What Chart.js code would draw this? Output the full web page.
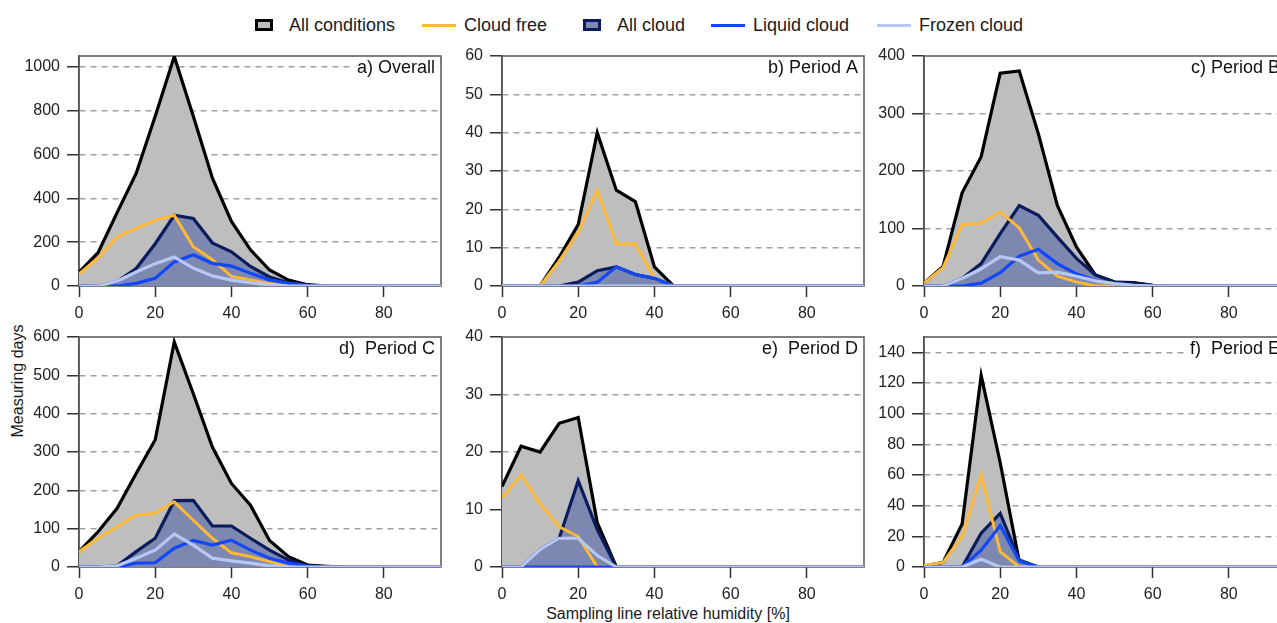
<!DOCTYPE html>
<html>
<head>
<meta charset="utf-8">
<script src="https://cdn.jsdelivr.net/npm/chart.js@4.4.0/dist/chart.umd.min.js"></script>
<style>
html,body{margin:0;padding:0;background:#fff;}
#wrap{position:relative;width:1277px;height:623px;overflow:hidden;font-family:"Liberation Sans",Arial,sans-serif;color:#1a1a1a;background:#fff;}
canvas.pc{position:absolute;}
.lg-item{position:absolute;top:14px;height:22px;display:flex;align-items:center;font-size:18px;white-space:nowrap;}
.sw-box{width:18px;height:12px;box-sizing:border-box;border:3px solid #000;display:inline-block;}
.sw-line{width:34px;height:3px;display:inline-block;}
.ytitle{position:absolute;left:18px;top:381px;transform:translate(-50%,-50%) rotate(-90deg);font-size:16px;white-space:nowrap;}
.xtitle{position:absolute;left:668px;top:614px;transform:translate(-50%,-50%);font-size:16px;white-space:nowrap;}
</style>
</head>
<body>
<div id="wrap">
  <div id="legend"></div>
  <div class="ytitle">Measuring days</div>
  <div class="xtitle">Sampling line relative humidity [%]</div>
</div>
<script>
// ---------- DATA ----------
const humidity = [0,5,10,15,20,25,30,35,40,45,50,55,60,65,70,75,80,85,90,95];
const seriesNames = ['All conditions','Cloud free','All cloud','Liquid cloud','Frozen cloud'];
const panelLabels = ['a) Overall','b) Period A','c) Period B','d)  Period C','e)  Period D','f)  Period E'];
const xTicks = [0,20,40,60,80];
const yTicksA = [0,200,400,600,800,1000];
const yTicksB = [0,10,20,30,40,50,60];
const yTicksC = [0,100,200,300,400];
const yTicksD = [0,100,200,300,400,500,600];
const yTicksE = [0,10,20,30,40];
const yTicksF = [0,20,40,60,80,100,120,140];
const yMaxes = [1050,60,400,600,40,150];

// a) Overall
const overallAll    = [62,152,335,514,775,1048,775,493,295,165,73,27,6,0,0,0,0,0,0,0];
const overallFree   = [55,128,224,263,301,323,179,120,44,27,12,0,0,0,0,0,0,0,0,0];
const overallCloud  = [0,0,20,80,193,323,308,197,156,89,41,15,3,0,0,0,0,0,0,0];
const overallLiquid = [0,0,0,12,35,110,143,103,91,58,28,12,3,0,0,0,0,0,0,0];
const overallFrozen = [0,0,22,64,102,132,82,46,27,15,5,0,0,0,0,0,0,0,0,0];
// b) Period A
const periodAAll    = [0,0,0,7.5,16,40,25,22,5,0,0,0,0,0,0,0,0,0,0,0];
const periodAFree   = [0,0,0,6.5,14,25,11,11,2,0,0,0,0,0,0,0,0,0,0,0];
const periodACloud  = [0,0,0,0,1,4,5,3,2,0,0,0,0,0,0,0,0,0,0,0];
const periodALiquid = [0,0,0,0,0,1,5,3,2,0,0,0,0,0,0,0,0,0,0,0];
const periodAFrozen = [0,0,0,0,0,0,0,0,0,0,0,0,0,0,0,0,0,0,0,0];
// c) Period B
const periodBAll    = [5,34,162,225,370,374,265,140,68,19,7,6,1,0,0,0,0,0,0,0];
const periodBFree   = [5,32,107,109,129,101,45,17,7,0,0,0,0,0,0,0,0,0,0,0];
const periodBCloud  = [0,0,13,39,91,140,123,85,48,19,7,5,1,0,0,0,0,0,0,0];
const periodBLiquid = [0,0,0,5,23,52,64,39,21,10,4,1,0,0,0,0,0,0,0,0];
const periodBFrozen = [0,0,13,30,51,45,23,24,17,9,4,1,0,0,0,0,0,0,0,0];
// d) Period C
const periodCAll    = [40,92,153,244,332,587,452,313,218,161,69,27,5,2,0,0,0,0,0,0];
const periodCFree   = [40,75,105,135,140,170,122,75,37,27,14,0,0,0,0,0,0,0,0,0];
const periodCCloud  = [0,0,3,40,75,173,174,107,107,75,44,18,4,0,0,0,0,0,0,0];
const periodCLiquid = [0,0,0,10,11,49,69,57,70,44,23,10,2,0,0,0,0,0,0,0];
const periodCFrozen = [0,0,3,23,44,86,57,23,16,10,3,0,0,0,0,0,0,0,0,0];
// e) Period D
const periodDAll    = [14,21,20,25,26,7.7,0,0,0,0,0,0,0,0,0,0,0,0,0,0];
const periodDFree   = [12,16,11,7,5.3,0,0,0,0,0,0,0,0,0,0,0,0,0,0,0];
const periodDCloud  = [0,0,3,5,15,6.5,0,0,0,0,0,0,0,0,0,0,0,0,0,0];
const periodDLiquid = [0,0,0,0,0,0,0,0,0,0,0,0,0,0,0,0,0,0,0,0];
const periodDFrozen = [0,0,3,5,5,2,0,0,0,0,0,0,0,0,0,0,0,0,0,0];
// f) Period E
const periodEAll    = [0.5,3,28,125,68,3.5,0,0,0,0,0,0,0,0,0,0,0,0,0,0];
const periodEFree   = [1,3,20,60,10,0,0,0,0,0,0,0,0,0,0,0,0,0,0,0];
const periodECloud  = [0,0,0,22,35,4.5,0,0,0,0,0,0,0,0,0,0,0,0,0,0];
const periodELiquid = [0,0,0,11,27,4,0,0,0,0,0,0,0,0,0,0,0,0,0,0];
const periodEFrozen = [0,0,0,5,0,0,0,0,0,0,0,0,0,0,0,0,0,0,0,0];

// ---------- STYLE / LAYOUT ----------
const FONT = '"Liberation Sans", Arial, sans-serif';
const styles = [
  {type:'box',  fill:'#bebebe', line:'#000000', width:3.2, order:4},
  {type:'line', fill:null,      line:'#fdb935', width:3,   order:2},
  {type:'box',  fill:'#7d88b1', line:'#0a1c5c', width:3.2, order:3},
  {type:'line', fill:null,      line:'#1347f5', width:3.2, order:1},
  {type:'line', fill:null,      line:'#b6c7f5', width:3.2, order:0}
];
const panelData = [
  [overallAll,overallFree,overallCloud,overallLiquid,overallFrozen],
  [periodAAll,periodAFree,periodACloud,periodALiquid,periodAFrozen],
  [periodBAll,periodBFree,periodBCloud,periodBLiquid,periodBFrozen],
  [periodCAll,periodCFree,periodCCloud,periodCLiquid,periodCFrozen],
  [periodDAll,periodDFree,periodDCloud,periodDLiquid,periodDFrozen],
  [periodEAll,periodEFree,periodECloud,periodELiquid,periodEFrozen]
];
const panelTicks = [yTicksA,yTicksB,yTicksC,yTicksD,yTicksE,yTicksF];
const areaLefts = [79,502,924,79,502,924];
const areaTops  = [56,56,56,337,337,337];
const AREA_W = 362, AREA_H = 230, YW = 70, XH = 44, PT = 26, PR = 10;

// legend
const legendLefts = [255,422,583,711,877];
const legend = document.getElementById('legend');
seriesNames.forEach((name,i)=>{
  const st = styles[i];
  const it = document.createElement('div');
  it.className = 'lg-item';
  it.style.left = legendLefts[i] + 'px';
  const sw = document.createElement('span');
  if (st.type === 'box') {
    sw.className = 'sw-box';
    sw.style.background = st.fill;
    sw.style.borderColor = st.line;
    sw.style.marginRight = '16px';
  } else {
    sw.className = 'sw-line';
    sw.style.background = st.line;
    sw.style.marginRight = '8px';
  }
  it.appendChild(sw);
  const tx = document.createElement('span');
  tx.textContent = name;
  it.appendChild(tx);
  legend.appendChild(it);
});

const panelDecor = {
  id: 'panelDecor',
  beforeDatasetsDraw(chart) {
    const {ctx, chartArea: a} = chart;
    ctx.save();
    ctx.strokeStyle = '#555';
    ctx.lineWidth = 1.5;
    ctx.strokeRect(a.left, a.top, a.right - a.left, a.bottom - a.top);
    ctx.restore();
  },
  afterDatasetsDraw(chart, args, opts) {
    const {ctx, chartArea: a} = chart;
    ctx.save();
    ctx.font = '18px ' + FONT;
    const w = ctx.measureText(opts.label).width;
    const x = a.right - 6, y = a.top + 12;
    ctx.fillStyle = '#fff';
    ctx.fillRect(x - w - 2, y - 10, w + 4, 20);
    ctx.fillStyle = '#111';
    ctx.textAlign = 'right';
    ctx.textBaseline = 'middle';
    ctx.fillText(opts.label, x, y);
    ctx.restore();
  }
};

const wrap = document.getElementById('wrap');
panelData.forEach((series, p) => {
  const cv = document.createElement('canvas');
  cv.className = 'pc';
  const W = YW + AREA_W + PR, H = PT + AREA_H + XH;
  cv.width = W; cv.height = H;
  cv.style.width = W + 'px'; cv.style.height = H + 'px';
  cv.style.left = (areaLefts[p] - YW) + 'px';
  cv.style.top = (areaTops[p] - PT) + 'px';
  wrap.appendChild(cv);
  const yMax = yMaxes[p];
  const yt = panelTicks[p];
  const datasets = series.map((vals, i) => {
    const st = styles[i];
    return {
      label: seriesNames[i],
      data: humidity.map((h, k) => ({x: h, y: vals[k]})),
      borderColor: st.line,
      backgroundColor: st.fill || 'rgba(0,0,0,0)',
      borderWidth: st.width,
      fill: st.fill ? 'origin' : false,
      pointRadius: 0,
      tension: 0,
      borderJoinStyle: 'miter',
      order: st.order
    };
  });
  new Chart(cv, {
    type: 'line',
    data: {datasets},
    options: {
      responsive: false, animation: false, devicePixelRatio: 1,
      layout: {padding: {left: 0, right: PR, top: PT, bottom: 0}},
      plugins: {legend: {display: false}, tooltip: {enabled: false}, panelDecor: {label: panelLabels[p]}},
      scales: {
        x: {
          type: 'linear', min: 0, max: 95,
          afterBuildTicks: s => { s.ticks = xTicks.map(v => ({value: v})); },
          afterFit: s => { s.height = XH; },
          grid: {drawOnChartArea: false, tickLength: 11, tickColor: '#333', tickWidth: 1.5},
          border: {display: false},
          ticks: {font: {size: 16, family: FONT}, color: '#222', padding: 7, maxRotation: 0, autoSkip: false,
                  callback: v => String(v)}
        },
        y: {
          type: 'linear', min: 0, max: yMax,
          afterBuildTicks: s => { s.ticks = yt.map(v => ({value: v})); },
          afterFit: s => { s.width = YW; },
          grid: {
            color: c => (c.tick && (c.tick.value === 0 || c.tick.value === yMax)) ? 'rgba(0,0,0,0)' : '#a0a0a0',
            lineWidth: 1.5,
            tickLength: 12, tickColor: '#333', tickWidth: 1.5
          },
          border: {display: true, color: '#444', width: 1.5, dash: [6, 5]},
          ticks: {font: {size: 16, family: FONT}, color: '#222', padding: 7, autoSkip: false,
                  callback: v => String(v)}
        }
      }
    },
    plugins: [panelDecor]
  });
});
</script>
</body>
</html>
